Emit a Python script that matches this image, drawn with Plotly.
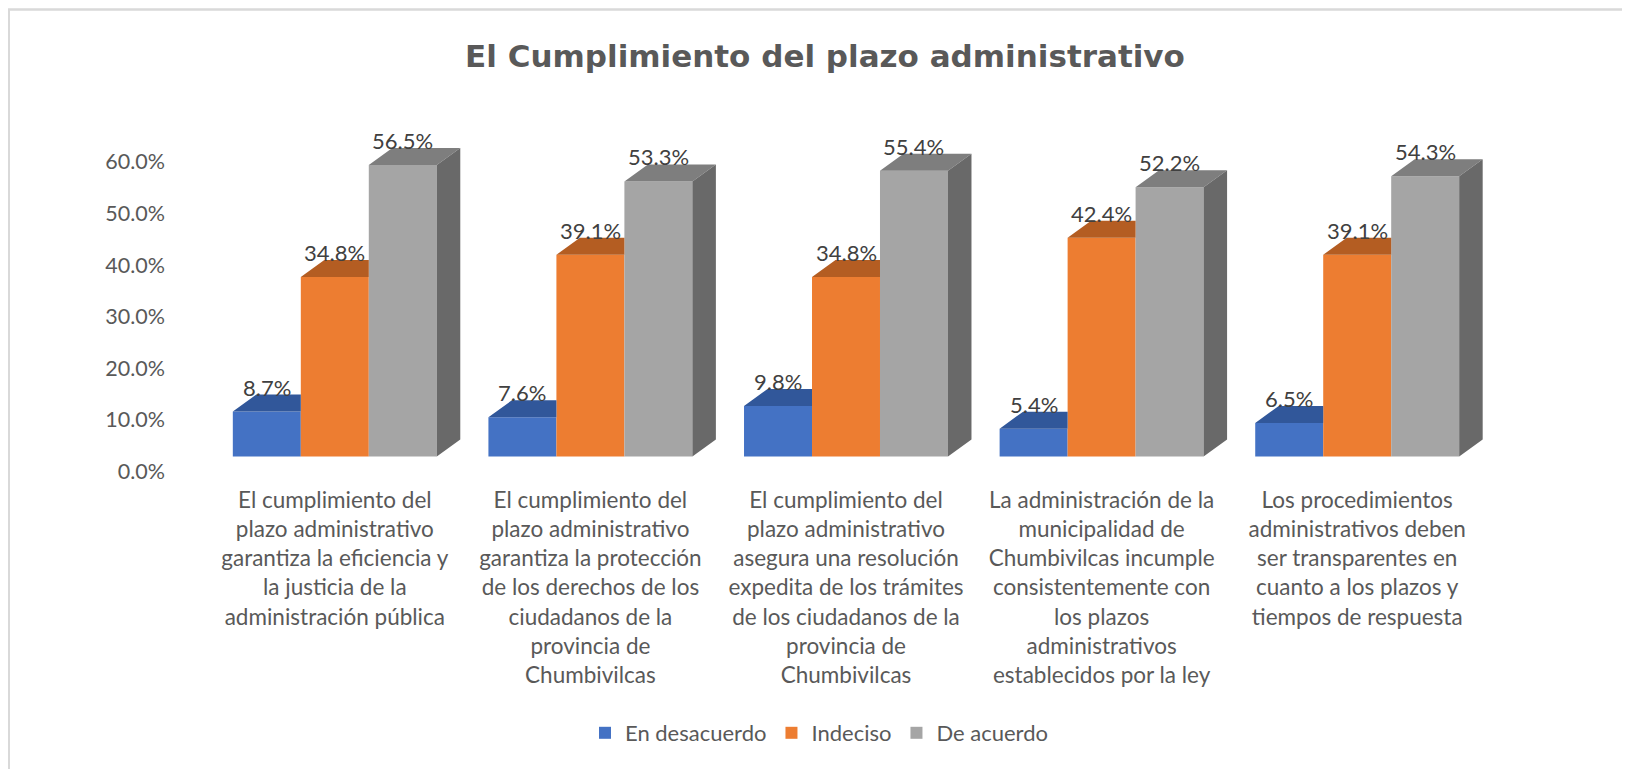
import plotly.graph_objects as go

categories = [
    "El cumplimiento del<br>plazo administrativo<br>garantiza la eficiencia y<br>la justicia de la<br>administración pública",
    "El cumplimiento del<br>plazo administrativo<br>garantiza la protección<br>de los derechos de los<br>ciudadanos de la<br>provincia de<br>Chumbivilcas",
    "El cumplimiento del<br>plazo administrativo<br>asegura una resolución<br>expedita de los trámites<br>de los ciudadanos de la<br>provincia de<br>Chumbivilcas",
    "La administración de la<br>municipalidad de<br>Chumbivilcas incumple<br>consistentemente con<br>los plazos<br>administrativos<br>establecidos por la ley",
    "Los procedimientos<br>administrativos deben<br>ser transparentes en<br>cuanto a los plazos y<br>tiempos de respuesta",
]
series_names = ["En desacuerdo", "Indeciso", "De acuerdo"]
en_desacuerdo = [0.087, 0.076, 0.098, 0.054, 0.065]
indeciso = [0.348, 0.391, 0.348, 0.424, 0.391]
de_acuerdo = [0.565, 0.533, 0.554, 0.522, 0.543]
y_ticks = [0.0, 0.1, 0.2, 0.3, 0.4, 0.5, 0.6]

series_values = [en_desacuerdo, indeciso, de_acuerdo]
front_colors = ["#4472C4", "#ED7D31", "#A5A5A5"]
top_colors = ["#31579A", "#B45D22", "#7E7E7E"]
side_color = "#696969"

W, H = 1630, 769
OFF = 8  # page body margin
ML, MR, MT, MB = 207 - OFF, 153, 95 - OFF, 297
plot_w = W - ML - MR
plot_h = H - MT - MB
px_per_unit_y = 516.0
base_px = 456.5 - OFF
y_lo = -((H - MB) - base_px) / px_per_unit_y
y_hi = (base_px - MT) / px_per_unit_y
px_per_unit_x = plot_w / 5.0

bw = 0.266                     # bar width (x units)
dx = 23.5 / px_per_unit_x      # 3D depth, x
dy = 17.0 / px_per_unit_y      # 3D depth, y
offsets = [-bw, 0.0, bw]

txt_color = "#595959"
font_lbl = "Lato, Carlito, Open Sans, sans-serif"

fig = go.Figure()
n = len(categories)

for k, (name, vals) in enumerate(zip(series_names, series_values)):
    xs = [i + offsets[k] for i in range(n)]
    fig.add_trace(go.Bar(
        x=xs, y=vals, width=bw, name=name,
        marker=dict(color=front_colors[k], line=dict(width=0)),
        hoverinfo="name+y",
    ))

# 3D top faces and side faces, computed from the data
for k, vals in enumerate(series_values):
    tx, ty = [], []
    for i, v in enumerate(vals):
        L = i + offsets[k] - bw / 2
        R = i + offsets[k] + bw / 2
        if k < 2:
            tx += [L, R, R, L + dx, L, None]
            ty += [v, v, v + dy, v + dy, v, None]
        else:
            tx += [L, R, R + dx, L + dx, L, None]
            ty += [v, v, v + dy, v + dy, v, None]
    fig.add_trace(go.Scatter(
        x=tx, y=ty, mode="lines", fill="toself", fillcolor=top_colors[k],
        line=dict(width=0, color=top_colors[k]), showlegend=False, hoverinfo="skip",
    ))

sx, sy = [], []
for i, v in enumerate(de_acuerdo):
    R = i + offsets[2] + bw / 2
    sx += [R, R, R + dx, R + dx, R, None]
    sy += [0, v, v + dy, dy, 0, None]
fig.add_trace(go.Scatter(
    x=sx, y=sy, mode="lines", fill="toself", fillcolor=side_color,
    line=dict(width=0, color=side_color), showlegend=False, hoverinfo="skip",
))

annotations = []
for k, vals in enumerate(series_values):
    for i, v in enumerate(vals):
        annotations.append(dict(
            x=i + offsets[k], y=v, xref="x", yref="y",
            text=f"{v * 100:.1f}%", showarrow=False,
            yanchor="bottom", yshift=9,
            font=dict(family=font_lbl, size=22, color="#404040"),
        ))

def px_to_paper_x(px):
    return (px - ML) / plot_w

def px_to_paper_y(py):
    return ((H - MB) - py) / plot_h

shapes = [
    dict(type="line", xref="paper", yref="paper",
         x0=px_to_paper_x(0), x1=px_to_paper_x(W + 5),
         y0=px_to_paper_y(1.5), y1=px_to_paper_y(1.5),
         line=dict(color="#D9D9D9", width=2.5)),
    dict(type="line", xref="paper", yref="paper",
         x0=px_to_paper_x(1), x1=px_to_paper_x(1),
         y0=px_to_paper_y(1.5), y1=px_to_paper_y(H + 5),
         line=dict(color="#D9D9D9", width=2)),
]

fig.update_layout(
    width=W, height=H,
    margin=dict(l=ML, r=MR, t=MT, b=MB, autoexpand=False),
    paper_bgcolor="white", plot_bgcolor="white",
    barmode="overlay",
    title=dict(
        text="<b>El Cumplimiento del plazo administrativo</b>",
        x=(825 - OFF) / W, xref="container", xanchor="center",
        y=1 - (56 - OFF) / H, yref="container", yanchor="middle",
        font=dict(family="DejaVu Sans, Liberation Sans, sans-serif", size=31, color=txt_color),
    ),
    xaxis=dict(
        range=[-0.5, n - 0.5], tickmode="array", tickvals=list(range(n)),
        ticktext=categories, showgrid=False, zeroline=False, showline=False,
        ticks="", ticklabelstandoff=4,
        tickfont=dict(family=font_lbl, size=22.5, color=txt_color),
        fixedrange=True,
    ),
    yaxis=dict(
        range=[y_lo, y_hi], tickmode="array", tickvals=y_ticks, tickformat=".1%",
        showgrid=False, zeroline=False, showline=False, ticks="",
        ticklabelshift=15, ticklabelstandoff=41,
        tickfont=dict(family=font_lbl, size=21.5, color=txt_color),
        fixedrange=True,
    ),
    legend=dict(
        orientation="h", x=px_to_paper_x(811), xanchor="center",
        y=px_to_paper_y(725), yanchor="middle",
        font=dict(family=font_lbl, size=22, color=txt_color),
        traceorder="normal",
    ),
    annotations=annotations,
    shapes=shapes,
    showlegend=True,
)

fig.write_html("out.html")
